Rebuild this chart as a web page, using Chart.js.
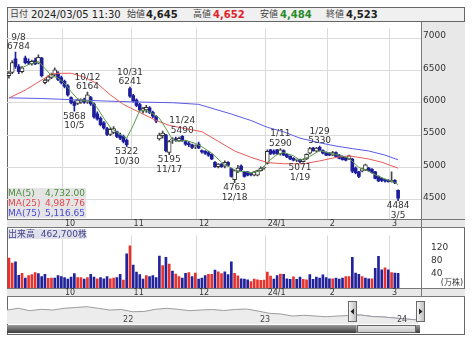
<!DOCTYPE html>
<html>
<head>
<meta charset="utf-8">
<script src="https://cdn.jsdelivr.net/npm/chart.js@4.4.0/dist/chart.umd.min.js"></script>
<style>
  body { margin: 0; background: #fff; font-family: "DejaVu Sans", "Noto Sans CJK JP", sans-serif; }
  #wrap { position: relative; width: 474px; height: 341px; overflow: hidden; }
  .abs { position: absolute; }
  #frame { left: 7px; top: 7px; width: 456px; height: 326px; border: 1px solid #666; }
  #head { left: 7px; top: 7px; width: 456px; height: 13px; background: #f0f0f0; border: 1px solid #666; font-size: 10px; color: #222; }
  #head span, #head b { position: absolute; top: 0; line-height: 13px; white-space: nowrap; }
  #head .lb { font-size: 9px; color: #444; }
  #head b { font-size: 10px; }
  #maBox { left: 8px; top: 188px; width: 78px; height: 30px; background: rgba(226,226,226,0.92); font-size: 9px; line-height: 10px; }
  #maBox div { position: relative; height: 10px; }
  #maBox span { position: absolute; right: 1px; }
  #volBox { left: 8px; top: 229px; width: 78px; height: 10px; background: #dfe0ea; font-size: 9px; line-height: 10px; color: #44448a; white-space: nowrap; }
</style>
</head>
<body>
<div id="wrap">
  <div id="frame" class="abs"></div>
  <canvas id="price" class="abs" style="left:7px;top:21px" width="458" height="207"></canvas>
  <canvas id="vol" class="abs" style="left:7px;top:228px" width="458" height="69"></canvas>
  <canvas id="nav" class="abs" style="left:7px;top:297px" width="458" height="37"></canvas>
  <div id="head" class="abs">
    <span class="lb" style="left:2px">日付</span>
    <span style="left:23px">2024/03/05 11:30</span>
    <span class="lb" style="left:119px">始値</span><b style="left:138px">4,645</b>
    <span class="lb" style="left:185px">高値</span><b style="left:205px;color:#e0202a">4,652</b>
    <span class="lb" style="left:252px">安値</span><b style="left:272px;color:#2a8a2a">4,484</b>
    <span class="lb" style="left:318px">終値</span><b style="left:338px">4,523</b>
  </div>
  <div id="maBox" class="abs"></div>
  <div id="volBox" class="abs">出来高 &nbsp;462,700株</div>
</div>
<script>
// trading days shown
const dates = [
  "9/6","9/7","9/8","9/11","9/12","9/13","9/14","9/15","9/19","9/20","9/21","9/22","9/25","9/26","9/27","9/28","9/29",
  "10/2","10/3","10/4","10/5","10/6","10/10","10/11","10/12","10/13","10/16","10/17","10/18","10/19","10/20","10/23","10/24","10/25","10/26","10/27","10/30","10/31",
  "11/1","11/2","11/6","11/7","11/8","11/9","11/10","11/13","11/14","11/15","11/16","11/17","11/20","11/21","11/22","11/24","11/27","11/28","11/29","11/30",
  "12/1","12/4","12/5","12/6","12/7","12/8","12/11","12/12","12/13","12/14","12/15","12/18","12/19","12/20","12/21","12/22","12/25","12/26","12/27","12/28","12/29",
  "1/4","1/5","1/9","1/10","1/11","1/12","1/15","1/16","1/17","1/18","1/19","1/22","1/23","1/24","1/25","1/26","1/29","1/30","1/31",
  "2/1","2/2","2/5","2/6","2/7","2/8","2/9","2/13","2/14","2/15","2/16","2/19","2/20","2/21","2/22","2/26","2/27","2/28","2/29",
  "3/1","3/4","3/5"
];
const monthLabels = ["10", "11", "12", "24/1", "2", "3"];

const opens = [6420,6470,6680,6560,6480,6690,6640,6600,6650,6610,6690,6310,6350,6390,6430,6460,6390,
  6330,6260,6080,6010,5990,6010,6050,6010,6080,5980,5830,5760,5690,5600,5510,5540,5550,5500,5480,5420,6220,
  6110,6040,5970,5870,5890,5920,5850,5790,5440,5490,5500,5230,5420,5440,5410,5480,5400,5370,5350,5320,
  5360,5260,5250,5230,5200,5080,5010,5050,5020,5080,4980,4810,4940,5020,4930,4930,4910,4880,4880,4950,4990,
  5060,5270,5250,5270,5210,5260,5200,5170,5140,5110,5120,5090,5130,5220,5300,5250,5310,5260,5230,
  5220,5190,5230,5190,5170,5150,5130,5130,4990,4930,4940,4960,4990,4970,4930,4860,4830,4810,4800,
  4780,4800,4645];
const highs = [6480,6650,6784,6590,6560,6720,6680,6660,6690,6740,6700,6370,6420,6460,6540,6480,6410,
  6350,6280,6090,6030,6060,6060,6070,6164,6100,6000,5860,5780,5710,5620,5610,5630,5560,5530,5500,5440,6241,
  6130,6060,5990,5930,5960,5940,5870,5800,5530,5560,5510,5420,5460,5470,5470,5490,5410,5400,5360,5350,
  5390,5270,5260,5250,5210,5090,5060,5060,5100,5090,4990,4960,5030,5040,4940,4940,4920,4940,4960,5010,5010,
  5270,5280,5270,5280,5290,5270,5210,5180,5150,5130,5130,5130,5210,5310,5310,5310,5330,5270,5240,
  5230,5250,5240,5200,5180,5160,5190,5140,5010,4940,4990,5050,5000,4980,4940,4870,4840,4820,4810,
  4930,4810,4652];
const lows = [6380,6450,6530,6450,6460,6600,6590,6580,6590,6600,6400,6290,6330,6370,6410,6340,6290,
  6230,6100,5980,5868,5970,5990,5990,5990,5960,5760,5730,5640,5590,5490,5490,5520,5460,5430,5380,5322,6080,
  6010,5940,5870,5840,5850,5830,5770,5690,5420,5450,5240,5195,5370,5400,5400,5400,5340,5320,5290,5290,
  5290,5220,5200,5170,5120,5000,4990,5000,4990,5020,4850,4763,4920,4950,4850,4870,4870,4870,4870,4940,4970,
  5050,5200,5200,5200,5190,5180,5150,5120,5100,5090,5071,5080,5120,5210,5250,5240,5250,5210,5180,
  5180,5180,5160,5130,5110,5100,5120,4920,4900,4840,4930,4950,4940,4910,4820,4780,4780,4770,4770,
  4770,4750,4484];
const closes = [6460,6620,6560,6480,6540,6620,6610,6640,6600,6700,6420,6350,6400,6440,6510,6360,6310,
  6250,6120,6000,5960,6040,6040,6010,6120,5980,5780,5750,5660,5610,5510,5590,5600,5480,5450,5400,5350,6100,
  6030,5960,5890,5910,5930,5850,5790,5720,5500,5530,5260,5400,5440,5420,5450,5420,5360,5350,5310,5330,
  5300,5240,5220,5190,5130,5010,5050,5010,5080,5030,4860,4950,4990,4960,4860,4880,4890,4930,4950,4990,5000,
  5250,5210,5220,5210,5270,5190,5160,5130,5110,5120,5090,5120,5200,5290,5260,5300,5260,5220,5190,
  5190,5230,5170,5140,5120,5110,5180,4940,4920,4860,4980,5040,4950,4920,4830,4790,4800,4790,4780,
  4800,4760,4523];

// volume in 10,000 shares, and colour (R up / B down)
const volume = [94,78,82,40,46,31,39,42,48,45,36,43,30,31,31,39,36,
  33,28,34,45,33,33,28,33,43,34,29,33,29,36,29,31,33,43,25,107,132,
  72,50,42,28,39,36,39,33,100,70,96,75,53,44,36,31,46,48,36,47,
  28,31,39,43,43,56,51,45,51,42,82,46,38,29,28,26,20,28,26,24,25,
  50,37,28,39,44,43,29,27,35,27,34,27,26,42,27,34,31,41,33,
  29,29,31,28,31,36,36,96,47,43,36,31,29,29,62,99,57,63,57,
  48,47,46];
const volDir = "RRBBRBRRRBBBRRBBB" + "BBBBRRBRBBRBBBRRBBRBR" + "BBBBRBBBBRBRBRRBBRBR" +
  "BBBRRBRRBBBRRBBBRRR" + "RR" + "RRBBRBBBRBBRRBBBBBB" + "BRBBBRRBBBRBBRBBBRB" + "RBB";

// moving averages: [day index, value]
const ma5 = [[4,6540],[6,6590],[8,6620],[9,6640],[11,6530],[13,6420],[15,6380],[17,6300],[19,6170],[21,6060],
  [23,6030],[25,6030],[27,5920],[29,5760],[31,5620],[33,5540],[35,5480],[36,5450],[38,5650],[40,5880],
  [42,5880],[44,5830],[46,5760],[48,5600],[50,5430],[52,5400],[54,5420],[57,5370],[59,5320],[62,5220],
  [65,5080],[68,4990],[70,4930],[72,4940],[74,4910],[77,4950],[79,5080],[82,5200],[84,5230],[87,5180],
  [89,5110],[92,5170],[95,5260],[98,5220],[101,5190],[104,5140],[107,5000],[110,4940],[113,4860],[116,4800],
  [118,4765],[119,4732]];
const ma25 = [[0,6072],[5,6196],[9,6320],[13,6444],[16,6455],[19,6455],[23,6395],[27,6296],[31,6122],[35,5973],
  [40,5849],[45,5725],[49,5650],[54,5600],[59,5552],[64,5403],[69,5254],[74,5155],[79,5075],[84,5056],
  [90,5055],[95,5100],[100,5154],[104,5179],[110,5130],[114,5080],[119,4988]];
const ma75 = [[0,6075],[10,6065],[20,6045],[30,6025],[40,6010],[50,6000],[58,5975],[63,5900],[68,5825],[74,5725],
  [79,5620],[84,5550],[89,5452],[95,5380],[100,5330],[105,5290],[110,5254],[115,5190],[119,5117]];
const maLegend = [["MA(5)", 4732.00, "#4f8f3f"], ["MA(25)", 4987.76, "#e04850"], ["MA(75)", 5116.65, "#4a4ad8"]];

const peakIdx = [2, 24, 37, 53, 83, 95];
const troughIdx = [20, 36, 49, 69, 89, 119];
const priceTicks = [4500, 5000, 5500, 6000, 6500, 7000];
const volTicks = [40, 80, 120];

// navigator: monthly closes from 2021/3 to 2024/3
const navValues = [8500,9180,8220,8780,8500,9180,9500,9820,9180,8500,8700,7820,7900,8780,9180,8780,8220,8500,
  8700,8300,8700,8900,8100,7180,6900,6100,6380,6100,5820,6100,6300,6500,5900,5700,5300,4900,4500];
const navYears = [[10, "22"], [22, "23"], [34, "24"]];
const navSelStart = 30.2;

Chart.defaults.font.family = "'DejaVu Sans', Verdana, sans-serif";
Chart.defaults.color = "#333";

const BLUE = "#1e1e9c";
const X_MIN = -0.6, X_MAX = 126;
const idx = dates.map((d, i) => i);
const isUp = i => closes[i] >= opens[i];

const monthTicks = [];
dates.forEach((d, i) => {
  if (i > 0 && d.split("/")[0] !== dates[i - 1].split("/")[0]) monthTicks.push(i - 0.5);
});

function xScale() {
  return {
    type: "linear", min: X_MIN, max: X_MAX, offset: false,
    afterBuildTicks: s => { s.ticks = monthTicks.map(v => ({ value: v })); },
    afterFit: s => { s.height = 9; },
    grid: { color: "#dadada", drawTicks: false, offset: false },
    border: { display: false },
    ticks: { autoSkip: false, maxRotation: 0, align: "start", labelOffset: 2, padding: 0,
      font: { size: 8 }, callback: (v, i) => monthLabels[i] }
  };
}

// grey strips and separating lines
const panelBg = {
  id: "panelBg",
  beforeDraw(chart, args, opts) {
    const { ctx, chartArea: a, width, height } = chart;
    ctx.save();
    if (opts.side) { ctx.fillStyle = opts.side; ctx.fillRect(a.right, 0, width - a.right, height); }
    ctx.fillStyle = "#e8e8e8";
    ctx.fillRect(0, a.bottom, opts.fullStrip ? width : a.right, height - a.bottom);
    ctx.strokeStyle = "#777";
    ctx.lineWidth = 1;
    ctx.beginPath();
    ctx.moveTo(0, Math.round(a.bottom) + 0.5); ctx.lineTo(width, Math.round(a.bottom) + 0.5);
    ctx.moveTo(0, height - 0.5); ctx.lineTo(width, height - 0.5);
    ctx.moveTo(Math.round(a.right) + 0.5, 0); ctx.lineTo(Math.round(a.right) + 0.5, height);
    ctx.stroke();
    ctx.restore();
  }
};

const peakLabels = {
  id: "peakLabels",
  afterDatasetsDraw(chart) {
    const { ctx, chartArea: a, scales: { x, y } } = chart;
    ctx.save();
    ctx.font = "9px 'DejaVu Sans'";
    ctx.fillStyle = "#333";
    ctx.textAlign = "center";
    const put = (i, v, first, second, dy1, dy2) => {
      const w = Math.max(ctx.measureText(first).width, ctx.measureText(second).width);
      const px = Math.min(Math.max(x.getPixelForValue(i), a.left + w / 2), a.right - w / 2);
      const py = y.getPixelForValue(v);
      ctx.fillText(first, px, py + dy1);
      ctx.fillText(second, px, py + dy2);
    };
    peakIdx.forEach(i => put(i, highs[i], String(highs[i]), dates[i], -3, -12.5));
    troughIdx.forEach(i => put(i, lows[i], String(lows[i]), dates[i], 7.5, 17));
    ctx.restore();
  }
};

new Chart(document.getElementById("price"), {
  type: "bar",
  data: {
    datasets: [
      { label: "wick", order: 5, grouped: false, barThickness: 1,
        data: idx.map(i => ({ x: i, y: [lows[i], highs[i]] })),
        backgroundColor: idx.map(i => isUp(i) ? "#444" : BLUE) },
      { label: "up", order: 4, grouped: false, barThickness: 4, minBarLength: 1,
        data: idx.filter(isUp).map(i => ({ x: i, y: [opens[i], closes[i]] })),
        backgroundColor: "#fff", borderColor: "#333", borderWidth: 1, borderSkipped: false },
      { label: "down", order: 4, grouped: false, barThickness: 3, minBarLength: 1,
        data: idx.filter(i => !isUp(i)).map(i => ({ x: i, y: [opens[i], closes[i]] })),
        backgroundColor: BLUE },
      { type: "line", label: "MA75", order: 3, data: ma75.map(p => ({ x: p[0], y: p[1] })),
        borderColor: "#5a5ae6", borderWidth: 1, pointRadius: 0 },
      { type: "line", label: "MA25", order: 2, data: ma25.map(p => ({ x: p[0], y: p[1] })),
        borderColor: "#e85a5a", borderWidth: 1, pointRadius: 0 },
      { type: "line", label: "MA5", order: 1, data: ma5.map(p => ({ x: p[0], y: p[1] })),
        borderColor: "#5a9a48", borderWidth: 1, pointRadius: 0 }
    ]
  },
  options: {
    responsive: false, animation: false, events: [],
    layout: { padding: 0 },
    plugins: { legend: { display: false }, tooltip: { enabled: false }, panelBg: { side: "#e8e8e8" } },
    scales: {
      x: xScale(),
      y: {
        position: "right", min: 4202, max: 7149,
        afterBuildTicks: s => { s.ticks = priceTicks.map(v => ({ value: v })); },
        afterFit: s => { s.width = 44; },
        grid: { color: "#dadada", drawTicks: false },
        border: { display: false },
        ticks: { padding: 2, labelOffset: -2, font: { size: 9 }, callback: v => String(v) }
      }
    }
  },
  plugins: [panelBg, peakLabels]
});

const volUnit = {
  id: "volUnit",
  afterDraw(chart) {
    const { ctx, chartArea: a, width } = chart;
    ctx.save();
    ctx.font = "8px 'DejaVu Sans', 'Noto Sans CJK JP'";
    ctx.fillStyle = "#333";
    ctx.textAlign = "right";
    ctx.fillText("(万株)", width - 2, a.bottom - 3);
    ctx.restore();
  }
};

new Chart(document.getElementById("vol"), {
  type: "bar",
  data: {
    datasets: [{
      data: idx.map(i => ({ x: i, y: volume[i] })),
      backgroundColor: idx.map(i => volDir[i] === "R" ? "#e8322e" : "#22229a"),
      barThickness: 2
    }]
  },
  options: {
    responsive: false, animation: false, events: [],
    layout: { padding: 0 },
    plugins: { legend: { display: false }, tooltip: { enabled: false }, panelBg: { fullStrip: true } },
    scales: {
      x: xScale(),
      y: {
        position: "right", min: 0, max: 165,
        afterBuildTicks: s => { s.ticks = volTicks.map(v => ({ value: v })); },
        afterFit: s => { s.width = 44; },
        grid: { display: false },
        border: { display: false },
        ticks: { padding: 2, labelOffset: -2, font: { size: 9 } }
      }
    }
  },
  plugins: [panelBg, volUnit]
});

const navDeco = {
  id: "navDeco",
  afterDraw(chart) {
    const { ctx, chartArea: a, scales: { x } } = chart;
    ctx.save();
    ctx.font = "8px 'DejaVu Sans'";
    ctx.fillStyle = "#444";
    navYears.forEach(([k, t]) => ctx.fillText(t, x.getPixelForValue(k) + 2, a.bottom - 2));
    // scrollbar
    const sb = ctx.createLinearGradient(0, a.bottom, 0, a.bottom + 9);
    sb.addColorStop(0, "#a8a8a8"); sb.addColorStop(1, "#3c3c3c");
    ctx.fillStyle = sb;
    ctx.fillRect(a.left, a.bottom + 1, a.right - a.left, 8);
    const x0 = x.getPixelForValue(navSelStart);
    const th = ctx.createLinearGradient(0, a.bottom, 0, a.bottom + 9);
    th.addColorStop(0, "#f2f2f2"); th.addColorStop(1, "#c4c4c4");
    ctx.fillStyle = th;
    ctx.fillRect(x0 + 5, a.bottom + 1, a.right - x0 - 9, 8);
    ctx.strokeStyle = "#666";
    ctx.lineWidth = 1;
    ctx.strokeRect(Math.round(x0 + 5) + 0.5, a.bottom + 1.5, Math.round(a.right - x0 - 10), 7);
    // handles
    const handle = (cx, dir) => {
      const w = 9, t = a.top + 4, b = a.bottom - 2, l = Math.round(cx - w / 2);
      const g = ctx.createLinearGradient(l, 0, l + w, 0);
      g.addColorStop(0, "#fafafa"); g.addColorStop(1, "#b8b8b8");
      ctx.fillStyle = g;
      ctx.fillRect(l, t, w, b - t);
      ctx.strokeStyle = "#6a6a6a";
      ctx.strokeRect(l + 0.5, t + 0.5, w - 1, b - t - 1);
      const my = (t + b) / 2, c = l + w / 2;
      ctx.fillStyle = "#222";
      ctx.beginPath();
      ctx.moveTo(c - 1.5 * dir, my - 3); ctx.lineTo(c + 2 * dir, my); ctx.lineTo(c - 1.5 * dir, my + 3);
      ctx.fill();
    };
    handle(x0 + 1, -1);
    handle(a.right, 1);
    ctx.restore();
  }
};

new Chart(document.getElementById("nav"), {
  type: "line",
  data: {
    datasets: [
      { data: navValues.map((v, k) => ({ x: k, y: v })), borderColor: "#9c9c9c", borderWidth: 1,
        backgroundColor: "#ececec", fill: "start", pointRadius: 0 },
      { data: navValues.map((v, k) => ({ x: k, y: k >= 30 ? v : null })), borderColor: "#8490c8", borderWidth: 1,
        backgroundColor: "rgba(150,172,236,0.65)", fill: "start", pointRadius: 0 }
    ]
  },
  options: {
    responsive: false, animation: false, events: [],
    layout: { padding: { right: 45, bottom: 10 } },
    plugins: { legend: { display: false }, tooltip: { enabled: false } },
    scales: {
      x: { type: "linear", min: 0, max: 36.2, display: false },
      y: { min: 2900, max: 13700, display: false }
    }
  },
  plugins: [navDeco]
});

// moving average legend box
const maBox = document.getElementById("maBox");
maLegend.forEach(([name, val, col]) => {
  const row = document.createElement("div");
  row.style.color = col;
  row.innerHTML = name + "<span>" + val.toLocaleString("en-US", { minimumFractionDigits: 2 }) + "</span>";
  maBox.appendChild(row);
});
</script>
</body>
</html>
